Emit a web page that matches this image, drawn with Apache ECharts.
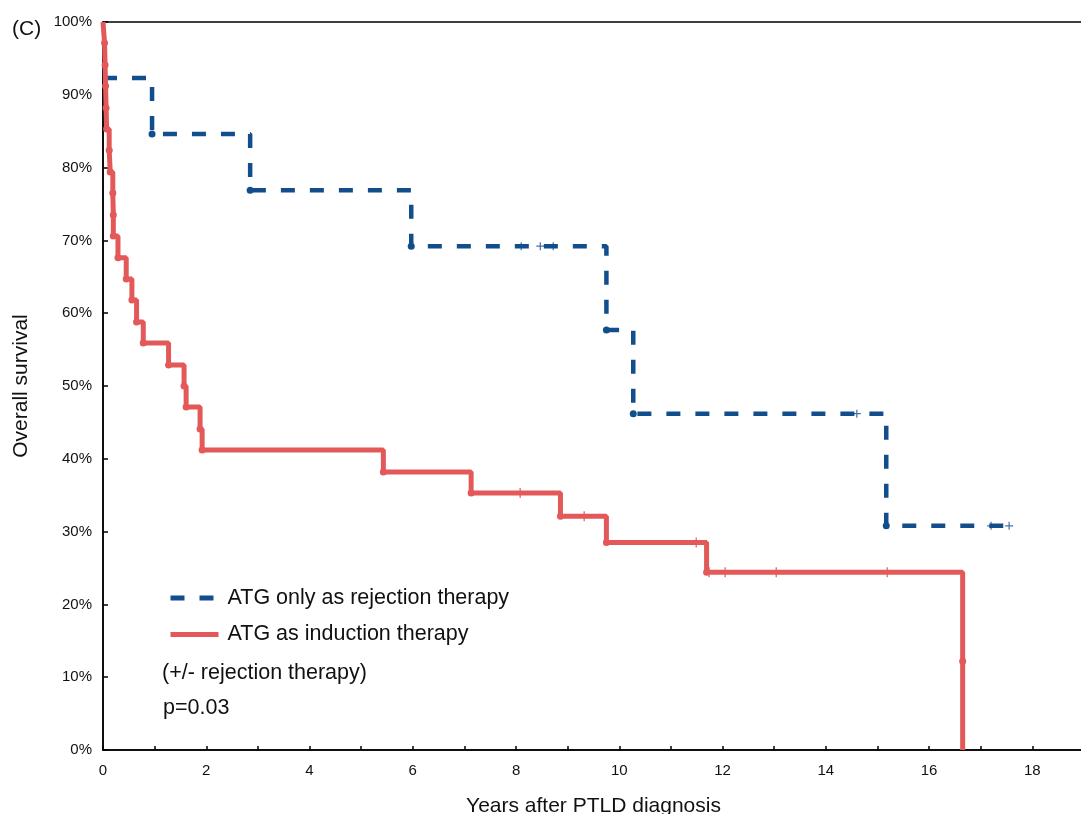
<!DOCTYPE html>
<html>
<head>
<meta charset="utf-8">
<script src="https://cdn.jsdelivr.net/npm/echarts@6/dist/echarts.min.js"></script>
<style>html,body{margin:0;padding:0;background:#fff}#chart{width:1081px;height:814px}</style>
</head>
<body>
<div id="chart"></div>
<script>
// ---- data ----
const seriesNames = ['ATG only as rejection therapy', 'ATG as induction therapy'];

const blueEventYears    = [0, 0.95, 2.85, 5.97, 9.75, 10.27, 15.17];
const blueEventSurvival = [92.3, 84.6, 76.9, 69.2, 57.7, 46.2, 30.8];
const blueCensorYears    = [8.1, 8.47, 8.72, 14.6, 17.2, 17.55];
const blueCensorSurvival = [69.2, 69.2, 69.2, 46.2, 30.8, 30.8];

const redEventYears    = [0.03, 0.04, 0.05, 0.06, 0.07, 0.12, 0.14, 0.19, 0.2, 0.2, 0.29, 0.45, 0.56, 0.65, 0.78, 1.27, 1.57, 1.61, 1.88, 1.92, 5.43, 7.13, 8.86, 9.75, 11.69, 16.65, 16.65];
const redEventSurvival = [97.1, 94.1, 91.2, 88.2, 85.3, 82.4, 79.4, 76.5, 73.5, 70.6, 67.6, 64.7, 61.8, 58.8, 55.9, 52.9, 50.0, 47.1, 44.1, 41.2, 38.2, 35.3, 32.1, 28.5, 24.4, 12.2, 0];
const redCensorYears    = [8.08, 9.32, 11.49, 11.74, 12.05, 13.04, 15.19];
const redCensorSurvival = [35.3, 32.1, 28.5, 24.4, 24.4, 24.4, 24.4];

const annotationTexts = ['(+/- rejection therapy)', 'p=0.03'];
const panelLabel = '(C)';
const xAxisName = 'Years after PTLD diagnosis';
const yAxisName = 'Overall survival';

// ---- styling ----
const BLUE = '#124d8c';
const RED = '#e35959';
const FONT = 'Liberation Sans, Arial, sans-serif';
const TXT = '#111';
const PLUS = 'path://M3.4,0H4.6V3.4H8V4.6H4.6V8H3.4V4.6H0V3.4H3.4Z';

function kmLine(evT, evS, censT, censS) {
  const d = [];
  if (evT[0] !== 0) d.push({ value: [0, 100], symbol: 'none' });
  evT.forEach((t, i) => {
    d.push({ value: [t, evS[i]], symbol: (t === 0 || evS[i] === 0) ? 'none' : 'circle' });
  });
  const lastEvT = evT[evT.length - 1];
  const lastCT = censT.length ? censT[censT.length - 1] : null;
  if (lastCT !== null && lastCT > lastEvT) {
    d.push({ value: [lastCT, censS[censS.length - 1]], symbol: 'none' });
  }
  return d;
}
function pts(xs, ys) { return xs.map((x, i) => [x, ys[i]]); }

const chart = echarts.init(document.getElementById('chart'), null, { renderer: 'canvas' });
chart.setOption({
  animation: false,
  backgroundColor: '#fff',
  textStyle: { fontFamily: FONT },
  grid: { left: 103, top: 22, width: 981, height: 728, outerBoundsMode: 'none', containLabel: false,
    show: true, borderColor: '#000', borderWidth: 1.5, backgroundColor: 'transparent' },
  xAxis: {
    type: 'value', min: 0, max: 19, interval: 1,
    name: xAxisName, nameLocation: 'middle', nameGap: 46,
    nameTextStyle: { fontSize: 21, color: TXT, fontFamily: FONT },
    axisLine: { lineStyle: { color: '#000', width: 1.5 } },
    axisTick: { inside: true, length: 4, lineStyle: { color: '#000', width: 1.5 } },
    axisLabel: { fontSize: 15, color: TXT, margin: 13, fontFamily: FONT,
      formatter: v => (v % 2 === 0 ? String(v) : '') },
    splitLine: { show: false }
  },
  yAxis: {
    type: 'value', min: 0, max: 100, interval: 10,
    name: yAxisName, nameLocation: 'middle', nameGap: 71, nameRotate: 90,
    nameTextStyle: { fontSize: 21, color: TXT, fontFamily: FONT },
    axisLine: { show: true, lineStyle: { color: '#000', width: 1.5 } },
    axisTick: { show: true, inside: true, length: 5, lineStyle: { color: '#000', width: 1.5 } },
    axisLabel: { fontSize: 15, color: TXT, margin: 11, fontFamily: FONT, formatter: '{value}%' },
    splitLine: { show: false }
  },
  legend: {
    data: seriesNames, orient: 'vertical', left: 168, top: 587, padding: 0,
    itemWidth: 48, itemHeight: 20, itemGap: 14.5, selectedMode: false,
    itemStyle: { opacity: 0 },
    lineStyle: { width: 5 },
    textStyle: { fontSize: 21.5, color: TXT, fontFamily: FONT, padding: [0, 0, 0, 4] }
  },
  graphic: [
    { type: 'text', left: 12, top: 19, style: { text: panelLabel, fontSize: 21, fontFamily: FONT, fill: TXT } },
    { type: 'text', left: 162, top: 662, style: { text: annotationTexts[0], fontSize: 21.5, fontFamily: FONT, fill: TXT } },
    { type: 'text', left: 163, top: 697, style: { text: annotationTexts[1], fontSize: 21.5, fontFamily: FONT, fill: TXT } }
  ],
  series: [
    {
      name: seriesNames[0], type: 'line', step: 'end', z: 2,
      data: kmLine(blueEventYears, blueEventSurvival, blueCensorYears, blueCensorSurvival),
      symbol: 'circle', symbolSize: 7, showSymbol: true, showAllSymbol: true,
      lineStyle: { color: BLUE, width: 4.5, type: [14, 15], cap: 'butt' },
      itemStyle: { color: BLUE },
      emphasis: { disabled: true }
    },
    {
      name: 'blueCensor', type: 'scatter', z: 3,
      data: pts(blueCensorYears, blueCensorSurvival),
      symbol: PLUS, symbolSize: 8, itemStyle: { color: BLUE },
      emphasis: { disabled: true }
    },
    {
      name: seriesNames[1], type: 'line', step: 'end', z: 4,
      data: kmLine(redEventYears, redEventSurvival, redCensorYears, redCensorSurvival),
      symbol: 'circle', symbolSize: 7, showSymbol: true, showAllSymbol: true,
      lineStyle: { color: RED, width: 5, cap: 'butt' },
      itemStyle: { color: RED },
      emphasis: { disabled: true }
    },
    {
      name: 'redCensor', type: 'scatter', z: 5,
      data: pts(redCensorYears, redCensorSurvival),
      symbol: PLUS, symbolSize: 10, itemStyle: { color: RED },
      emphasis: { disabled: true }
    }
  ]
});
</script>
</body>
</html>
